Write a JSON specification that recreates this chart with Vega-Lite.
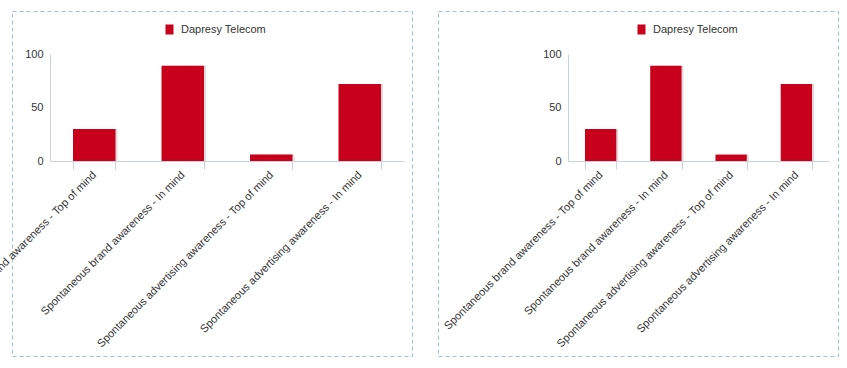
{
  "$schema": "https://vega.github.io/schema/vega-lite/v6.json",
  "padding": {"left": -66, "top": 10, "right": 0, "bottom": 0},
  "background": "white",
  "bounds": "flush",
  "spacing": 26,
  "config": {
    "font": "Liberation Sans",
    "view": {"stroke": "#9CC4D9", "strokeDash": [4, 3], "strokeWidth": 1},
    "axis": {"labelFont": "Liberation Sans", "labelFontSize": 11, "labelColor": "#333333", "domainColor": "#C9D2DA", "tickColor": "#C9D2DA", "grid": false, "title": null}
  },
  "datasets": {
    "awareness": [
      {"measure": "Spontaneous brand awareness - Top of mind", "series": "Dapresy Telecom", "value": 30},
      {"measure": "Spontaneous brand awareness - In mind", "series": "Dapresy Telecom", "value": 89},
      {"measure": "Spontaneous advertising awareness - Top of mind", "series": "Dapresy Telecom", "value": 6},
      {"measure": "Spontaneous advertising awareness - In mind", "series": "Dapresy Telecom", "value": 72}
    ]
  },
  "resolve": {"scale": {"x": "independent", "y": "independent", "color": "independent"}, "legend": {"color": "independent"}},
  "hconcat": [
    {
      "width": 400,
      "height": 345,
      "data": {"name": "awareness"},
      "encoding": {
        "x": {"field": "measure", "type": "nominal", "sort": null,
          "scale": {"range": [38, 392], "paddingInner": 0.52, "paddingOuter": 0.26},
          "axis": {"offset": -195, "labelAngle": -45, "labelAlign": "right", "labelBaseline": "middle", "tickBand": "extent", "tickSize": 8, "labelPadding": 4, "labelLimit": 400}},
        "y": {"field": "value", "type": "quantitative",
          "scale": {"domain": [0, 100], "range": [150, 43], "nice": false},
          "axis": {"offset": -38, "values": [0, 50, 100], "ticks": false, "labelPadding": 7}}
      },
      "layer": [
        {"mark": {"type": "bar", "xOffset": 2, "color": "#E2D9DB"}},
        {
          "mark": {"type": "bar"},
          "encoding": {
            "color": {"field": "series", "type": "nominal",
              "scale": {"range": ["#C8001C"]},
              "legend": {"title": null, "orient": "none", "legendX": 152, "legendY": 13, "symbolType": "M-0.8,-1H0.8V1H-0.8Z", "symbolSize": 100, "symbolStrokeWidth": 0, "labelFontSize": 11, "labelColor": "#333333", "labelOffset": 6, "padding": 0}}
          }
        }
      ]
    },
    {
      "width": 400,
      "height": 345,
      "data": {"name": "awareness"},
      "encoding": {
        "x": {"field": "measure", "type": "nominal", "sort": null,
          "scale": {"range": [130, 391], "paddingInner": 0.52, "paddingOuter": 0.26},
          "axis": {"offset": -195, "labelAngle": -45, "labelAlign": "right", "labelBaseline": "middle", "tickBand": "extent", "tickSize": 8, "labelPadding": 4, "labelLimit": 400}},
        "y": {"field": "value", "type": "quantitative",
          "scale": {"domain": [0, 100], "range": [150, 43], "nice": false},
          "axis": {"offset": -130, "values": [0, 50, 100], "ticks": false, "labelPadding": 7}}
      },
      "layer": [
        {"mark": {"type": "bar", "xOffset": 2, "color": "#E2D9DB"}},
        {
          "mark": {"type": "bar"},
          "encoding": {
            "color": {"field": "series", "type": "nominal",
              "scale": {"range": ["#C8001C"]},
              "legend": {"title": null, "orient": "none", "legendX": 198, "legendY": 13, "symbolType": "M-0.8,-1H0.8V1H-0.8Z", "symbolSize": 100, "symbolStrokeWidth": 0, "labelFontSize": 11, "labelColor": "#333333", "labelOffset": 6, "padding": 0}}
          }
        }
      ]
    }
  ]
}
